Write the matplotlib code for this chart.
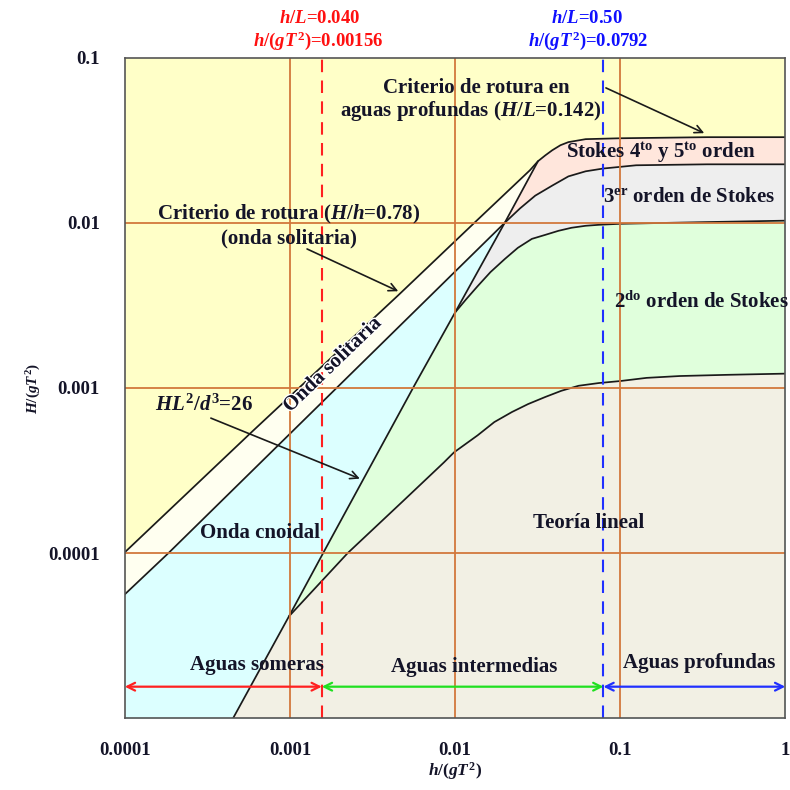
import matplotlib
matplotlib.use('Agg')
import matplotlib.pyplot as plt
import matplotlib.patheffects as pe

# breaking limit (H/h=0.78 line + deep water H/L=0.142)
brk_x = [1e-4, 5.85e-4, 4.53e-3, 0.0131, 0.0284, 0.0318, 0.0352, 0.0388, 0.0435, 0.0486, 0.0618, 0.1, 0.337, 1.0]
brk_y = [1.01e-4, 5.39e-4, 3.64e-3, 0.01, 0.0208, 0.0236, 0.0256, 0.0275, 0.0295, 0.0308, 0.0321, 0.0325, 0.033, 0.033]

# lower edge of solitary band / limit Stokes 4-5 vs 3
sol_x = [1e-4, 1.84e-4, 0.02, 0.0247, 0.0306, 0.0388, 0.0486, 0.0618, 0.0787, 0.125, 0.337, 1.0]
sol_y = [5.62e-5, 1e-4, 0.01, 0.0122, 0.0146, 0.0168, 0.0191, 0.0205, 0.0213, 0.0223, 0.0226, 0.0226]

# limit Stokes 3 vs 2
st3_x = [0.01, 0.01167, 0.0137, 0.0164, 0.02, 0.024, 0.0292, 0.0352, 0.0423, 0.0508, 0.0618, 0.0743, 0.1, 0.337, 1.0]
st3_y = [2.86e-3, 3.44e-3, 4.13e-3, 5.03e-3, 6.03e-3, 7.05e-3, 7.99e-3, 8.45e-3, 8.94e-3, 9.33e-3, 9.59e-3, 9.72e-3, 9.86e-3, 0.0101, 0.0103]

# limit Stokes 2 vs linear
st2_x = [9.86e-4, 2.24e-3, 4.86e-3, 8.57e-3, 9.86e-3, 0.0137, 0.0173, 0.0221, 0.0277, 0.0352, 0.044, 0.056, 0.0743,
         0.1, 0.1445, 0.23, 0.447, 1.0]
st2_y = [4.13e-5, 1e-4, 2.07e-4, 3.54e-4, 4.07e-4, 5.16e-4, 6.21e-4, 7.14e-4, 7.98e-4, 8.81e-4, 9.6e-4, 1.03e-3, 1.07e-3,
         1.10e-3, 1.15e-3, 1.18e-3, 1.2e-3, 1.22e-3]

# Ursell line HL^2/d^3 = 26
urs_x = [4.53e-4, 9.86e-4, 1.59e-3, 5.69e-3, 0.01, 0.02, 0.0318]
urs_y = [1e-5, 4.13e-5, 1e-4, 1.04e-3, 2.86e-3, 0.01, 0.0236]

ticks = [1e-4, 1e-3, 1e-2, 1e-1, 1]
x_ticklabels = ['0.0001', '0.001', '0.01', '0.1', '1']
y_ticks = [1e-4, 1e-3, 1e-2, 1e-1]
y_ticklabels = ['0.0001', '0.001', '0.01', '0.1']

shallow_lim = 0.00156
deep_lim = 0.0792

plt.rcParams['font.family'] = ['Liberation Serif', 'DejaVu Serif']
plt.rcParams['mathtext.fontset'] = 'custom'
plt.rcParams['mathtext.rm'] = 'Liberation Serif:bold'
plt.rcParams['mathtext.it'] = 'Liberation Serif:italic:bold'
plt.rcParams['mathtext.bf'] = 'Liberation Serif:bold'

TXT = '#141428'
GRID = '#D2783C'


def pts(xs, ys):
    return list(zip(xs, ys))


def idx(xs, v):
    return xs.index(v)


def fill_regions(ax):
    ax.set_facecolor('#FFFFC8')
    ax.fill_between(brk_x, brk_y, 1e-6, color='#FFFFF0', lw=0)
    ax.fill_between(sol_x, sol_y, 1e-6, color='#DCFFFF', lw=0)

    ib = idx(brk_x, 0.0318)
    i_s = idx(sol_x, 0.02)
    pink = pts(urs_x[5:], urs_y[5:]) + pts(brk_x[ib:], brk_y[ib:]) + pts(sol_x[i_s:], sol_y[i_s:])[::-1]
    gray = pts(urs_x[4:6], urs_y[4:6]) + pts(sol_x[i_s + 1:], sol_y[i_s + 1:]) + pts(st3_x, st3_y)[::-1]
    green = pts(urs_x[1:5], urs_y[1:5]) + pts(st3_x[1:], st3_y[1:]) + pts(st2_x, st2_y)[::-1]
    beige = pts(urs_x[0:2], urs_y[0:2]) + pts(st2_x[1:], st2_y[1:]) + [(1.0, 1e-5)]

    for poly, col in [(pink, '#FFE6DC'), (gray, '#EEEEEE'),
                      (green, '#E0FFDC'), (beige, '#F2F0E4')]:
        xs, ys = zip(*poly)
        ax.fill(xs, ys, color=col, lw=0)


def draw_lines(ax):
    kw = dict(color='#1a1a1a', lw=1.25, solid_capstyle='round', solid_joinstyle='round')
    ax.plot(brk_x, brk_y, **kw)
    ax.plot(sol_x, sol_y, **kw)
    ax.plot(st3_x, st3_y, **kw)
    ax.plot(st2_x, st2_y, **kw)
    ax.plot(urs_x, urs_y, **kw)

    for v in [1e-3, 1e-2, 1e-1]:
        ax.axvline(v, color=GRID, lw=1.3)
    for v in [1e-4, 1e-3, 1e-2]:
        ax.axhline(v, color=GRID, lw=1.3)

    ax.axvline(shallow_lim, color='#FF2020', lw=1.5, ls=(0, (6, 4)))
    ax.axvline(deep_lim, color='#2030FF', lw=1.5, ls=(0, (6, 4)))


def draw_text(ax, fig):
    fs = 15
    tk = dict(fontsize=fs, fontweight='bold', color=TXT)
    ax.text(6.3e-4, 2.1e-5, 'Aguas someras', ha='center', va='center', **tk)
    ax.text(0.0131, 2.05e-5, 'Aguas intermedias', ha='center', va='center', **tk)
    ax.text(0.30, 2.15e-5, 'Aguas profundas', ha='center', va='center', **tk)

    y_arr = 1.55e-5
    for a, b, c in [(1e-4, shallow_lim, '#FF2020'), (shallow_lim, deep_lim, '#20E020'), (deep_lim, 1.0, '#2030FF')]:
        ax.annotate('', xy=(b, y_arr), xytext=(a, y_arr),
                    arrowprops=dict(arrowstyle='<->', color=c, lw=1.6,
                                    mutation_scale=14, shrinkA=0, shrinkB=0))

    ax.text(6.55e-4, 1.32e-4, 'Onda cnoidal', ha='center', va='center', **tk)
    ax.text(0.0645, 1.52e-4, 'Teoría lineal', ha='center', va='center', **tk)
    ax.text(1.81e-3, 1.38e-3, 'Onda solitaria', ha='center', va='center', rotation=44,
            path_effects=[pe.withStroke(linewidth=2, foreground='white')], **tk)
    ax.text(0.0918, 3.3e-3, r'2$^{\mathrm{do}}$ orden de Stokes', ha='left', va='center', **tk)
    ax.text(0.0787, 0.0144, r'3$^{\mathrm{er}}$ orden de Stokes', ha='left', va='center', **tk)
    ax.text(0.0467, 0.0264, r'Stokes 4$^{\mathrm{to}}$ y 5$^{\mathrm{to}}$ orden', ha='left', va='center', **tk)

    ax.text(9.86e-4, 0.0113, r'Criterio de rotura ($H$/$h$=0.78)', ha='center', va='center', **tk)
    ax.text(9.86e-4, 8.0e-3, '(onda solitaria)', ha='center', va='center', **tk)
    ax.text(0.0135, 0.0655, 'Criterio de rotura en', ha='center', va='center', **tk)
    ax.text(0.0125, 0.0475, r'aguas profundas ($H$/$L$=0.142)', ha='center', va='center', **tk)
    ax.text(3.01e-4, 7.87e-4, r'$HL^2/d^3$=26', ha='center', va='center', **tk)

    akw = dict(arrowstyle='->', color='#1a1a1a', lw=1.2, mutation_scale=14, shrinkA=0, shrinkB=0)
    ax.annotate('', xy=(0.323, 0.0349), xytext=(0.082, 0.0656), arrowprops=akw)
    ax.annotate('', xy=(4.53e-3, 3.85e-3), xytext=(1.27e-3, 6.94e-3), arrowprops=akw)
    ax.annotate('', xy=(2.65e-3, 2.82e-4), xytext=(3.32e-4, 6.56e-4), arrowprops=akw)

    hk = dict(ha='center', va='center', fontsize=13.5, fontweight='bold')
    fig.text(0.405, 0.976, r'$h$/$L$=0.040', color='#FF1010', **hk)
    fig.text(0.403, 0.949, r'$h$/($gT^2$)=0.00156', color='#FF1010', **hk)
    fig.text(0.743, 0.976, r'$h$/$L$=0.50', color='#1010FF', **hk)
    fig.text(0.744, 0.949, r'$h$/($gT^2$)=0.0792', color='#1010FF', **hk)


def main():
    fig = plt.figure(figsize=(7.9, 7.9), dpi=100)
    ax = fig.add_axes([0.158, 0.091, 0.836, 0.836])
    ax.set_xscale('log')
    ax.set_yscale('log')
    ax.set_xlim(1e-4, 1)
    ax.set_ylim(1e-5, 0.1)

    fill_regions(ax)
    draw_lines(ax)
    draw_text(ax, fig)

    ax.set_xticks(ticks)
    ax.set_xticklabels(x_ticklabels)
    ax.set_yticks(y_ticks)
    ax.set_yticklabels(y_ticklabels)
    ax.minorticks_off()
    ax.tick_params(axis='x', length=0, pad=17, labelsize=13.5, labelcolor=TXT)
    ax.tick_params(axis='y', length=0, pad=18, labelsize=13.5, labelcolor=TXT)
    for lab in ax.get_xticklabels() + ax.get_yticklabels():
        lab.set_fontweight('bold')
    ax.set_xlabel(r'$h/(gT^2)$', fontsize=12.5, color=TXT, labelpad=1)
    ax.set_ylabel(r'$H/(gT^2)$', fontsize=11, color=TXT, labelpad=4)
    for s in ax.spines.values():
        s.set_color('#555555')
        s.set_linewidth(1.2)

    fig.savefig('out.png', dpi=100)


if __name__ == '__main__':
    main()
